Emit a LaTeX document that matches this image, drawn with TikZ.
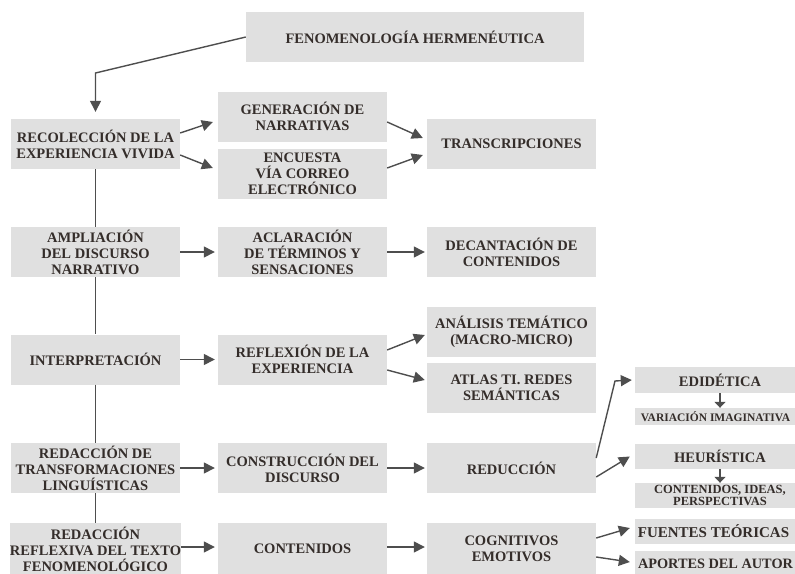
\documentclass[tikz,border=0pt]{standalone}
\usepackage{fontspec}
\setmainfont{Liberation Serif}
\usetikzlibrary{arrows.meta}
\definecolor{boxgray}{RGB}{224,224,224}
\definecolor{linegray}{RGB}{78,78,78}
\definecolor{txt}{RGB}{52,45,42}
\begin{document}
\begin{tikzpicture}[x=1pt,y=-1pt,
  box/.style={fill=boxgray, minimum width=169pt, minimum height=50pt, inner sep=0pt,
    align=center, text=txt, font=\bfseries\fontsize{14.5}{16}\selectfont},
  smallbox/.style={box, minimum width=170pt, minimum height=25pt},
  conn/.style={draw=linegray, line width=1.4pt},
  arr/.style={conn, -{Triangle[length=11pt,width=11pt]}},
  arrsmall/.style={conn, -{Triangle[length=6pt,width=11pt]}},
]
\useasboundingbox (0,0) rectangle (795,573);
\clip (0,0) rectangle (795,573);

% top
\node[box, minimum width=338pt] (top) at (415,37) {FENOMENOLOGÍA HERMENÉUTICA};

% column 1
\node[box] (rec) at (95.5,144) {RECOLECCIÓN DE LA\\EXPERIENCIA VIVIDA};
\node[box] (amp) at (95.5,252) {AMPLIACIÓN\\DEL DISCURSO\\NARRATIVO};
\node[box] (int) at (95.5,359.5) {INTERPRETACIÓN};
\node[box] (red) at (95.5,468) {REDACCIÓN DE\\TRANSFORMACIONES\\LINGUÍSTICAS};
\node[box, minimum height=52pt] (rfx) at (95.5,549) {REDACCIÓN\\REFLEXIVA DEL TEXTO\\FENOMENOLÓGICO};

% column 2
\node[box] (gen) at (302.5,116.5) {GENERACIÓN DE\\NARRATIVAS};
\node[box] (enc) at (302.5,174) {ENCUESTA\\VÍA CORREO\\ELECTRÓNICO};
\node[box] (acl) at (302.5,252) {ACLARACIÓN\\DE TÉRMINOS Y\\SENSACIONES};
\node[box] (ref) at (302.5,359.5) {REFLEXIÓN DE LA\\EXPERIENCIA};
\node[box] (con) at (302.5,468) {CONSTRUCCIÓN DEL\\DISCURSO};
\node[box, minimum height=52pt] (cnt) at (302.5,549) {CONTENIDOS};

% column 3
\node[box] (tra) at (511.5,144) {TRANSCRIPCIONES};
\node[box] (dec) at (511.5,252) {DECANTACIÓN DE\\CONTENIDOS};
\node[box] (ana) at (511.5,332) {ANÁLISIS TEMÁTICO\\(MACRO-MICRO)};
\node[box] (atl) at (511.5,388) {ATLAS TI. REDES\\SEMÁNTICAS};
\node[box] (rdc) at (511.5,468) {REDUCCIÓN};
\node[box, minimum height=52pt] (cog) at (511.5,549) {COGNITIVOS\\EMOTIVOS};

% column 4
\node[smallbox, minimum height=26pt] (edi) at (720,380) {EDIDÉTICA};
\node[smallbox, minimum height=17pt] (var) at (720,416.5) {};
\node[text=txt, font=\bfseries\fontsize{11.5}{12}\selectfont, inner sep=0pt] (vart) at (715.5,416.5) {VARIACIÓN IMAGINATIVA};
\node[smallbox, font=\bfseries\fontsize{14.5}{16}\selectfont] (heu) at (720,456.5) {HEURÍSTICA};
\node[smallbox, font=\bfseries\fontsize{12.5}{12.5}\selectfont] (cip) at (720,495.5) {CONTENIDOS, IDEAS,\\PERSPECTIVAS};
\node[smallbox] (fue) at (720,531) {};
\node[text=txt, font=\bfseries\fontsize{15}{16}\selectfont, inner sep=0pt] (fuet) at (713.5,531) {FUENTES TEÓRICAS};
\node[smallbox, minimum height=26pt] (apo) at (720,564) {};
\node[text=txt, font=\bfseries\fontsize{14.3}{16}\selectfont, inner sep=0pt] (apot) at (715.5,564) {APORTES DEL AUTOR};

% helper coordinates
\coordinate (bend) at (95.5,73);
\coordinate (kn) at (615,381);

% top connector
\draw[arr] (top.west) -- (bend) -- ([yshift=7pt]rec.north);

% spine
\draw[conn] (rec.south) -- (amp.north);
\draw[conn] (amp.south) -- (int.north);
\draw[conn] (int.south) -- (red.north);
\draw[conn] (red.south) -- (rfx.north);

% row 1
\draw[arr] ([yshift=11pt]rec.east) -- ([xshift=-5pt,yshift=-5.5pt]gen.west);
\draw[arr] ([yshift=-11pt]rec.east) -- ([xshift=-5pt,yshift=6pt]enc.west);
\draw[arr] ([yshift=-5.5pt]gen.east) -- ([xshift=-4pt,yshift=6pt]tra.west);
\draw[arr] ([yshift=6pt]enc.east) -- ([xshift=-4pt,yshift=-11pt]tra.west);

% row 2
\draw[arr] (amp.east) -- ([xshift=-3pt]acl.west);
\draw[arr] (acl.east) -- ([xshift=-2pt]dec.west);

% row 3
\draw[arr] (int.east) -- ([xshift=-3pt]ref.west);
\draw[arr] ([yshift=9.5pt]ref.east) -- ([xshift=-2pt,yshift=-3pt]ana.west);
\draw[arr] ([yshift=-10.5pt]ref.east) -- ([xshift=-2pt,yshift=8pt]atl.west);

% row 4
\draw[arr] (red.east) -- ([xshift=-3pt]con.west);
\draw[arr] (con.east) -- ([xshift=-2pt]rdc.west);
\draw[arr] ([yshift=10pt]rdc.east) -- (kn) -- ([xshift=-3pt]edi.west);
\draw[arr] ([yshift=-9pt]rdc.east) -- ([xshift=-5pt]heu.west);
\draw[arrsmall] (edi.south) -- (var.north);
\draw[arrsmall] (heu.south) -- (cip.north);

% row 5
\draw[arr] ([yshift=2pt]rfx.east) -- ([xshift=-3pt,yshift=2pt]cnt.west);
\draw[arr] ([yshift=2pt]cnt.east) -- ([xshift=-2pt,yshift=2pt]cog.west);
\draw[arr] ([yshift=11pt]cog.east) -- ([xshift=-5pt,yshift=3pt]fue.west);
\draw[arr] ([yshift=-8pt]cog.east) -- ([xshift=-5pt,yshift=2pt]apo.west);
\end{tikzpicture}
\end{document}
